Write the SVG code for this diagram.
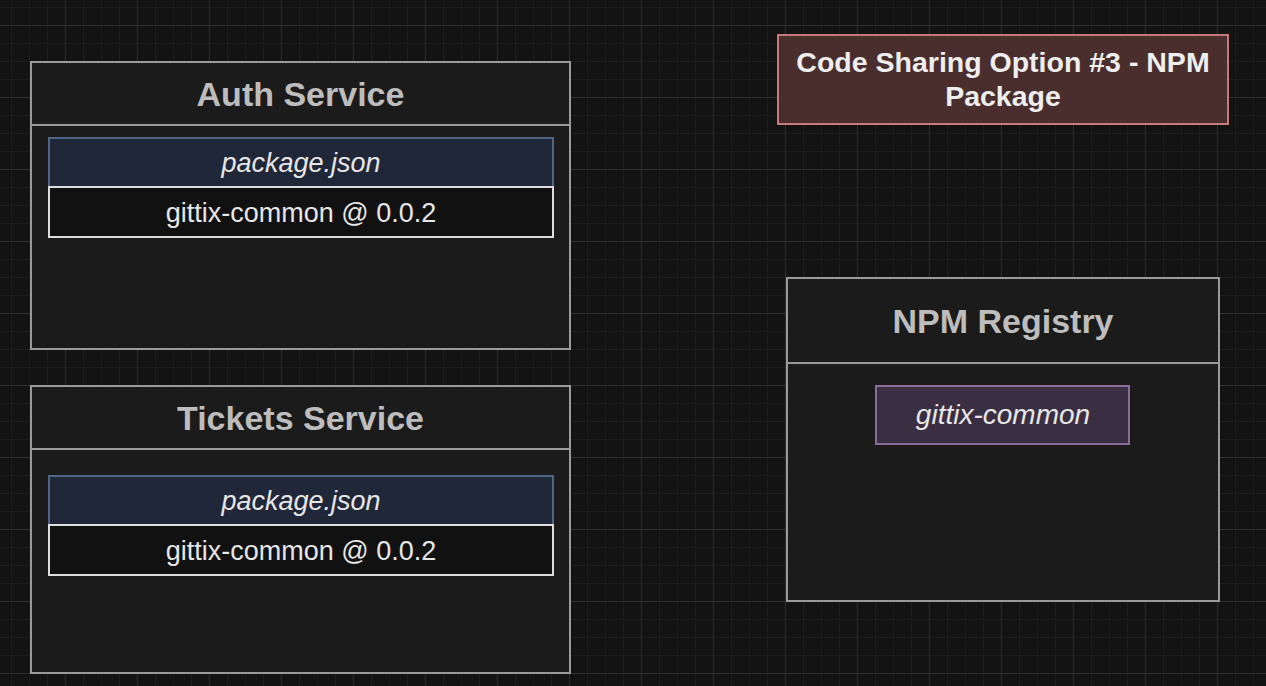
<svg xmlns="http://www.w3.org/2000/svg" width="1266" height="686" viewBox="0 0 1266 686">
<defs>
<pattern id="minor" x="11" y="7" width="18" height="18" patternUnits="userSpaceOnUse">
<path d="M0 0H18M0 0V18" stroke="#1d1d1d" stroke-width="2" fill="none"/>
</pattern>
<pattern id="major" x="65" y="25" width="72" height="72" patternUnits="userSpaceOnUse">
<path d="M0 0.5H72M0.5 0V72" stroke="#2e2e2e" stroke-width="1" fill="none"/>
</pattern>
</defs>
<style>
.box{fill:#1b1b1b;stroke:#9a9a9a;stroke-width:2}
.hdr{stroke:#9a9a9a;stroke-width:2}
.title{font-family:"Liberation Sans",Arial,sans-serif;font-weight:bold;font-size:34px;fill:#bdbdbd;text-anchor:middle}
.pkg{fill:#1f2738;stroke:#4f6585;stroke-width:2}
.row{fill:#111111;stroke:#dddddd;stroke-width:2}
.it{font-family:"Liberation Sans",Arial,sans-serif;font-style:italic;font-size:27px;fill:#e6e6e6;text-anchor:middle}
.txt{font-family:"Liberation Sans",Arial,sans-serif;font-size:27px;fill:#e6e6e6;text-anchor:middle}
.note{fill:#4a2e2e;stroke:#c47a7a;stroke-width:2}
.notet{font-family:"Liberation Sans",Arial,sans-serif;font-weight:bold;font-size:28.5px;fill:#eeeeee;text-anchor:middle}
.mod{fill:#3a2f42;stroke:#8c6c9c;stroke-width:2}
</style>
<rect width="1266" height="686" fill="#131313"/>
<rect width="1266" height="686" fill="url(#minor)"/>
<rect width="1266" height="686" fill="url(#major)"/>
<g id="connectors"></g>
<g id="auth-service">
<rect class="box" x="31" y="62" width="539" height="287"/>
<line class="hdr" x1="31" y1="125" x2="570" y2="125"/>
<text class="title" x="300.5" y="106">Auth Service</text>
<rect class="pkg" x="49" y="138" width="504" height="49"/>
<text class="it" x="301" y="172">package.json</text>
<rect class="row" x="49" y="187" width="504" height="50"/>
<text class="txt" x="301" y="222">gittix-common @ 0.0.2</text>
</g>
<g id="tickets-service">
<rect class="box" x="31" y="386" width="539" height="287"/>
<line class="hdr" x1="31" y1="449" x2="570" y2="449"/>
<text class="title" x="300.5" y="430">Tickets Service</text>
<rect class="pkg" x="49" y="476" width="504" height="49"/>
<text class="it" x="301" y="510">package.json</text>
<rect class="row" x="49" y="525" width="504" height="50"/>
<text class="txt" x="301" y="560">gittix-common @ 0.0.2</text>
</g>
<g id="title-note">
<rect class="note" x="778" y="35" width="450" height="89"/>
<text class="notet" x="1003" y="72">Code Sharing Option #3 - NPM</text>
<text class="notet" x="1003" y="106">Package</text>
</g>
<g id="npm-registry">
<rect class="box" x="787" y="278" width="432" height="323"/>
<line class="hdr" x1="787" y1="363" x2="1219" y2="363"/>
<text class="title" x="1003" y="333">NPM Registry</text>
<rect class="mod" x="876" y="386" width="253" height="58"/>
<text class="it" x="1003" y="424" style="font-size:28px">gittix-common</text>
</g>
</svg>
